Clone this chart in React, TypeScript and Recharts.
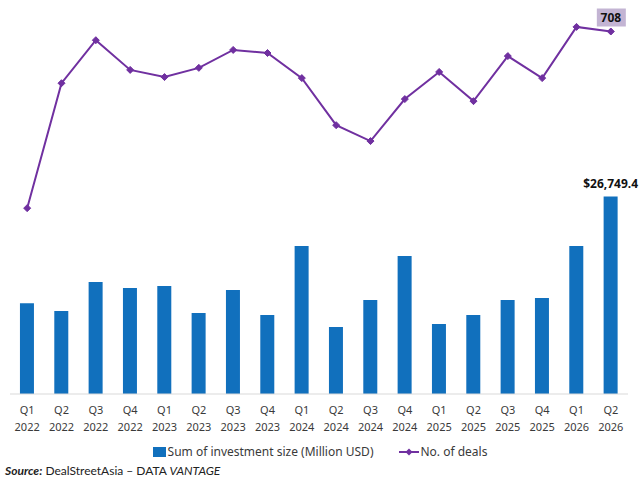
import React from "react";
import {
  ComposedChart,
  Bar,
  Line,
  XAxis,
  YAxis,
  LabelList,
} from "recharts";

const quarters = ["Q1", "Q2", "Q3", "Q4", "Q1", "Q2", "Q3", "Q4", "Q1", "Q2", "Q3", "Q4", "Q1", "Q2", "Q3", "Q4", "Q1", "Q2"];
const years = ["2022", "2022", "2022", "2022", "2023", "2023", "2023", "2023", "2024", "2024", "2024", "2024", "2025", "2025", "2025", "2025", "2026", "2026"];
const investment = [12300, 11240, 15170, 14350, 14630, 10970, 14080, 10700, 20040, 9070, 12730, 18690, 9480, 10700, 12730, 13000, 20040, 26749.4];
const deals = [363, 607, 691, 633, 619, 637, 672, 666, 617, 525, 494, 576, 629, 572, 660, 617, 717, 708];

const BAR_COLOR = "#1170BD";
const LINE_COLOR = "#7030A0";
const FONT = "'Noto Sans', sans-serif";

const data = quarters.map((q, i) => ({
  label: `${q} ${years[i]}`,
  investment: investment[i],
  deals: deals[i],
}));

const last = data.length - 1;

const QuarterTick = ({ x, y, payload }: any) => {
  const [q, yr] = String(payload.value).split(" ");
  return (
    <text x={x} y={y} textAnchor="middle" fill="#3a3a3a" fontSize={11} fontFamily={FONT}>
      <tspan x={x} dy={12}>{q}</tspan>
      <tspan x={x} dy={17}>{yr}</tspan>
    </text>
  );
};

const Diamond = ({ cx, cy }: any) => {
  if (cx == null || cy == null) return null;
  const s = 3.5;
  return (
    <polygon
      points={`${cx},${cy - s} ${cx + s},${cy} ${cx},${cy + s} ${cx - s},${cy}`}
      fill={LINE_COLOR}
      stroke={LINE_COLOR}
    />
  );
};

const BarTopLabel = ({ x, y, width, index, value }: any) => {
  if (index !== last) return null;
  return (
    <text
      x={x + width / 2}
      y={y - 8}
      textAnchor="middle"
      fontSize={12}
      fontWeight={700}
      fill="#111"
      fontFamily={FONT}
    >
      ${Number(value).toLocaleString("en-US", { minimumFractionDigits: 1 })}
    </text>
  );
};

const DealsLabel = ({ x, y, index, value }: any) => {
  if (index !== last) return null;
  return (
    <g>
      <rect x={x - 14} y={y - 23} width={29} height={18} fill="#C3B4D3" />
      <text
        x={x}
        y={y - 9.5}
        textAnchor="middle"
        fontSize={12}
        fontWeight={700}
        fill="#111"
        fontFamily={FONT}
      >
        {value}
      </text>
    </g>
  );
};

const ChartLegend = () => (
  <div
    style={{
      position: "absolute",
      top: 443,
      left: 0,
      width: 640,
      display: "flex",
      justifyContent: "center",
      alignItems: "center",
      fontFamily: FONT,
      fontSize: 12,
      color: "#3a3a3a",
    }}
  >
    <span style={{ display: "inline-block", width: 13, height: 10, background: BAR_COLOR, marginRight: 2 }} />
    <span style={{ marginRight: 26 }}>Sum of investment size (Million USD)</span>
    <svg width={20} height={10} style={{ marginRight: 1 }}>
      <line x1={0} y1={5} x2={20} y2={5} stroke={LINE_COLOR} strokeWidth={2} />
      <polygon points="10,1.5 13.5,5 10,8.5 6.5,5" fill={LINE_COLOR} />
    </svg>
    <span>No. of deals</span>
  </div>
);

export default function App() {
  return (
    <div style={{ position: "absolute", left: 0, top: 0, width: 640, height: 483, background: "#fff" }}>
      <ComposedChart
        width={640}
        height={483}
        data={data}
        margin={{ top: 10, right: 12, left: 10, bottom: 59 }}
        barCategoryGap="29%"
      >
        <XAxis
          dataKey="label"
          interval={0}
          tickLine={false}
          axisLine={{ stroke: "#d9d9d9" }}
          tick={<QuarterTick />}
          height={30}
        />
        <YAxis yAxisId="left" hide domain={[0, 52000]} />
        <YAxis yAxisId="right" hide orientation="right" domain={[0, 750]} />
        <Bar yAxisId="left" dataKey="investment" fill={BAR_COLOR} isAnimationActive={false}>
          <LabelList dataKey="investment" content={<BarTopLabel />} />
        </Bar>
        <Line
          yAxisId="right"
          dataKey="deals"
          stroke={LINE_COLOR}
          strokeWidth={2}
          dot={<Diamond />}
          activeDot={false}
          isAnimationActive={false}
        >
          <LabelList dataKey="deals" content={<DealsLabel />} />
        </Line>
      </ComposedChart>
      <ChartLegend />
      <div
        style={{
          position: "absolute",
          left: 5,
          top: 463,
          fontFamily: "Lato, sans-serif",
          fontSize: 12,
          color: "#222",
          whiteSpace: "nowrap",
        }}
      >
        <b><i>Source:</i></b> DealStreetAsia – DATA <i>VANTAGE</i>
      </div>
    </div>
  );
}
